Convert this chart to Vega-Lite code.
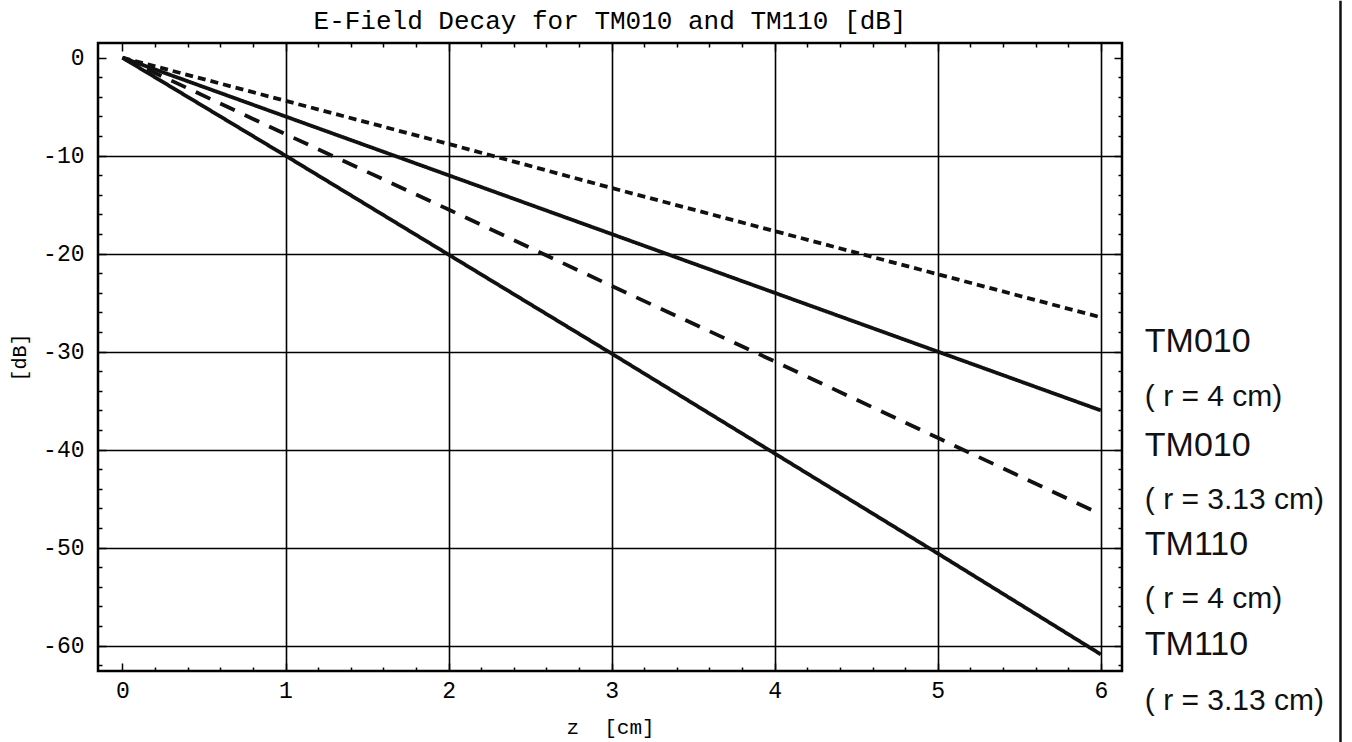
{
  "$schema": "https://vega.github.io/schema/vega-lite/v6.json",
  "autosize": "none",
  "width": 1024,
  "height": 628,
  "padding": {"left": 98, "top": 43, "right": 230, "bottom": 71},
  "background": "white",
  "title": {"text": "E-Field Decay for TM010 and TM110 [dB]", "font": "Liberation Mono", "fontSize": 26, "fontWeight": "normal", "color": "black", "frame": "group", "anchor": "middle", "offset": -34},
  "config": {"view": {"stroke": "black", "strokeWidth": 2.5}},
  "datasets": {
    "curves": [
      {"series": "TM010 (r = 4 cm)", "z": 0, "dB": 0},
      {"series": "TM010 (r = 4 cm)", "z": 1, "dB": -4.4},
      {"series": "TM010 (r = 4 cm)", "z": 2, "dB": -8.8},
      {"series": "TM010 (r = 4 cm)", "z": 3, "dB": -13.3},
      {"series": "TM010 (r = 4 cm)", "z": 4, "dB": -17.7},
      {"series": "TM010 (r = 4 cm)", "z": 5, "dB": -22.1},
      {"series": "TM010 (r = 4 cm)", "z": 6, "dB": -26.5},
      {"series": "TM010 (r = 3.13 cm)", "z": 0, "dB": 0},
      {"series": "TM010 (r = 3.13 cm)", "z": 1, "dB": -6},
      {"series": "TM010 (r = 3.13 cm)", "z": 2, "dB": -12},
      {"series": "TM010 (r = 3.13 cm)", "z": 3, "dB": -18},
      {"series": "TM010 (r = 3.13 cm)", "z": 4, "dB": -24},
      {"series": "TM010 (r = 3.13 cm)", "z": 5, "dB": -30},
      {"series": "TM010 (r = 3.13 cm)", "z": 6, "dB": -36},
      {"series": "TM110 (r = 4 cm)", "z": 0, "dB": 0},
      {"series": "TM110 (r = 4 cm)", "z": 1, "dB": -7.8},
      {"series": "TM110 (r = 4 cm)", "z": 2, "dB": -15.5},
      {"series": "TM110 (r = 4 cm)", "z": 3, "dB": -23.3},
      {"series": "TM110 (r = 4 cm)", "z": 4, "dB": -31.0},
      {"series": "TM110 (r = 4 cm)", "z": 5, "dB": -38.8},
      {"series": "TM110 (r = 4 cm)", "z": 6, "dB": -46.6},
      {"series": "TM110 (r = 3.13 cm)", "z": 0, "dB": 0},
      {"series": "TM110 (r = 3.13 cm)", "z": 1, "dB": -10},
      {"series": "TM110 (r = 3.13 cm)", "z": 2, "dB": -20.1},
      {"series": "TM110 (r = 3.13 cm)", "z": 3, "dB": -30.2},
      {"series": "TM110 (r = 3.13 cm)", "z": 4, "dB": -40.4},
      {"series": "TM110 (r = 3.13 cm)", "z": 5, "dB": -50.6},
      {"series": "TM110 (r = 3.13 cm)", "z": 6, "dB": -60.9}
    ],
    "labels": [
      {"text": "TM010", "kind": "mode", "z": 6.27, "dB": -29.0},
      {"text": "( r = 4 cm)", "kind": "radius", "z": 6.27, "dB": -34.6},
      {"text": "TM010", "kind": "mode", "z": 6.27, "dB": -39.6},
      {"text": "( r = 3.13 cm)", "kind": "radius", "z": 6.27, "dB": -45.1},
      {"text": "TM110", "kind": "mode", "z": 6.27, "dB": -49.7},
      {"text": "( r = 4 cm)", "kind": "radius", "z": 6.27, "dB": -55.2},
      {"text": "TM110", "kind": "mode", "z": 6.27, "dB": -59.9},
      {"text": "( r = 3.13 cm)", "kind": "radius", "z": 6.27, "dB": -65.7}
    ]
  },
  "resolve": {"axis": {"x": "independent", "y": "independent"}},
  "layer": [
    {
      "data": {"name": "curves"},
      "mark": {"type": "line", "color": "#111", "strokeWidth": 3.8, "strokeCap": "butt"},
      "encoding": {
        "x": {"field": "z", "type": "quantitative",
          "scale": {"domain": [-0.15, 6.13], "zero": false, "nice": false},
          "axis": {"orient": "bottom", "values": [0, 1, 2, 3, 4, 5, 6], "title": "z\u00a0\u00a0[cm]", "titleFont": "Liberation Mono", "titleFontSize": 21, "titleFontWeight": "normal", "titleColor": "black", "titlePadding": 14,
            "labelFont": "Liberation Mono", "labelFontSize": 23, "labelColor": "black", "labelPadding": 8, "labelExpr": "'' + datum.value",
            "ticks": false, "domain": false, "grid": true, "gridColor": "black", "gridWidth": 1.6,
            "gridOpacity": {"condition": {"test": "datum.value === 0", "value": 0}, "value": 1}}},
        "y": {"field": "dB", "type": "quantitative",
          "scale": {"domain": [-62.6, 1.5], "zero": false, "nice": false},
          "axis": {"orient": "left", "values": [0, -10, -20, -30, -40, -50, -60], "title": "[dB]", "titleFont": "Liberation Mono", "titleFontSize": 20, "titleFontWeight": "normal", "titleColor": "black", "titlePadding": 13,
            "labelFont": "Liberation Mono", "labelFontSize": 23, "labelColor": "black", "labelPadding": 14, "labelExpr": "'' + datum.value",
            "ticks": false, "domain": false, "grid": true, "gridColor": "black", "gridWidth": 1.6,
            "gridOpacity": {"condition": {"test": "datum.value === 0", "value": 0}, "value": 1}}},
        "strokeDash": {"field": "series", "type": "nominal",
          "scale": {"domain": ["TM010 (r = 4 cm)", "TM010 (r = 3.13 cm)", "TM110 (r = 4 cm)", "TM110 (r = 3.13 cm)"], "range": [[8, 5], [1, 0], [16, 11], [1, 0]]},
          "legend": null}
      }
    },
    {
      "data": {"name": "labels"},
      "transform": [{"filter": "datum.kind === 'mode'"}],
      "mark": {"type": "text", "font": "Liberation Sans", "fontSize": 34, "align": "left", "baseline": "middle", "color": "#111"},
      "encoding": {
        "x": {"field": "z", "type": "quantitative",
          "scale": {"domain": [-0.15, 6.13], "zero": false, "nice": false},
          "axis": {"orient": "bottom", "values": [0, 0.2, 0.4, 0.6, 0.8, 1, 1.2, 1.4, 1.6, 1.8, 2, 2.2, 2.4, 2.6, 2.8, 3, 3.2, 3.4, 3.6, 3.8, 4, 4.2, 4.4, 4.6, 4.8, 5, 5.2, 5.4, 5.6, 5.8, 6],
            "labels": false, "grid": false, "domain": false, "title": null, "ticks": true, "tickColor": "black", "tickWidth": 1.5,
            "tickSize": {"condition": {"test": "datum.value % 1 === 0", "value": -8}, "value": -4}}},
        "y": {"field": "dB", "type": "quantitative",
          "scale": {"domain": [-62.6, 1.5], "zero": false, "nice": false},
          "axis": {"orient": "left", "values": [0, -2, -4, -6, -8, -10, -12, -14, -16, -18, -20, -22, -24, -26, -28, -30, -32, -34, -36, -38, -40, -42, -44, -46, -48, -50, -52, -54, -56, -58, -60, -62],
            "labels": false, "grid": false, "domain": false, "title": null, "ticks": true, "tickColor": "black", "tickWidth": 1.5,
            "tickSize": {"condition": {"test": "datum.value % 10 === 0", "value": -8}, "value": -4}}},
        "text": {"field": "text"}
      }
    },
    {
      "data": {"name": "labels"},
      "transform": [{"filter": "datum.kind === 'radius'"}],
      "mark": {"type": "text", "font": "Liberation Sans", "fontSize": 30, "align": "left", "baseline": "middle", "color": "#111"},
      "encoding": {
        "x": {"field": "z", "type": "quantitative",
          "scale": {"domain": [-0.15, 6.13], "zero": false, "nice": false},
          "axis": {"orient": "top", "values": [0, 0.2, 0.4, 0.6, 0.8, 1, 1.2, 1.4, 1.6, 1.8, 2, 2.2, 2.4, 2.6, 2.8, 3, 3.2, 3.4, 3.6, 3.8, 4, 4.2, 4.4, 4.6, 4.8, 5, 5.2, 5.4, 5.6, 5.8, 6],
            "labels": false, "grid": false, "domain": false, "title": null, "ticks": true, "tickColor": "black", "tickWidth": 1.5,
            "tickSize": {"condition": {"test": "datum.value % 1 === 0", "value": -8}, "value": -4}}},
        "y": {"field": "dB", "type": "quantitative",
          "scale": {"domain": [-62.6, 1.5], "zero": false, "nice": false},
          "axis": {"orient": "right", "values": [0, -2, -4, -6, -8, -10, -12, -14, -16, -18, -20, -22, -24, -26, -28, -30, -32, -34, -36, -38, -40, -42, -44, -46, -48, -50, -52, -54, -56, -58, -60, -62],
            "labels": false, "grid": false, "domain": false, "title": null, "ticks": true, "tickColor": "black", "tickWidth": 1.5,
            "tickSize": {"condition": {"test": "datum.value % 10 === 0", "value": -8}, "value": -4}}},
        "text": {"field": "text"}
      }
    },
    {
      "data": {"values": [{}]},
      "mark": {"type": "rule", "color": "#111", "strokeWidth": 2.5},
      "encoding": {
        "x": {"datum": 7.47, "type": "quantitative", "scale": {"domain": [-0.15, 6.13], "zero": false, "nice": false}, "axis": null},
        "y": {"datum": 5.8, "type": "quantitative", "scale": {"domain": [-62.6, 1.5], "zero": false, "nice": false}, "axis": null},
        "y2": {"datum": -70}
      }
    }
  ]
}
